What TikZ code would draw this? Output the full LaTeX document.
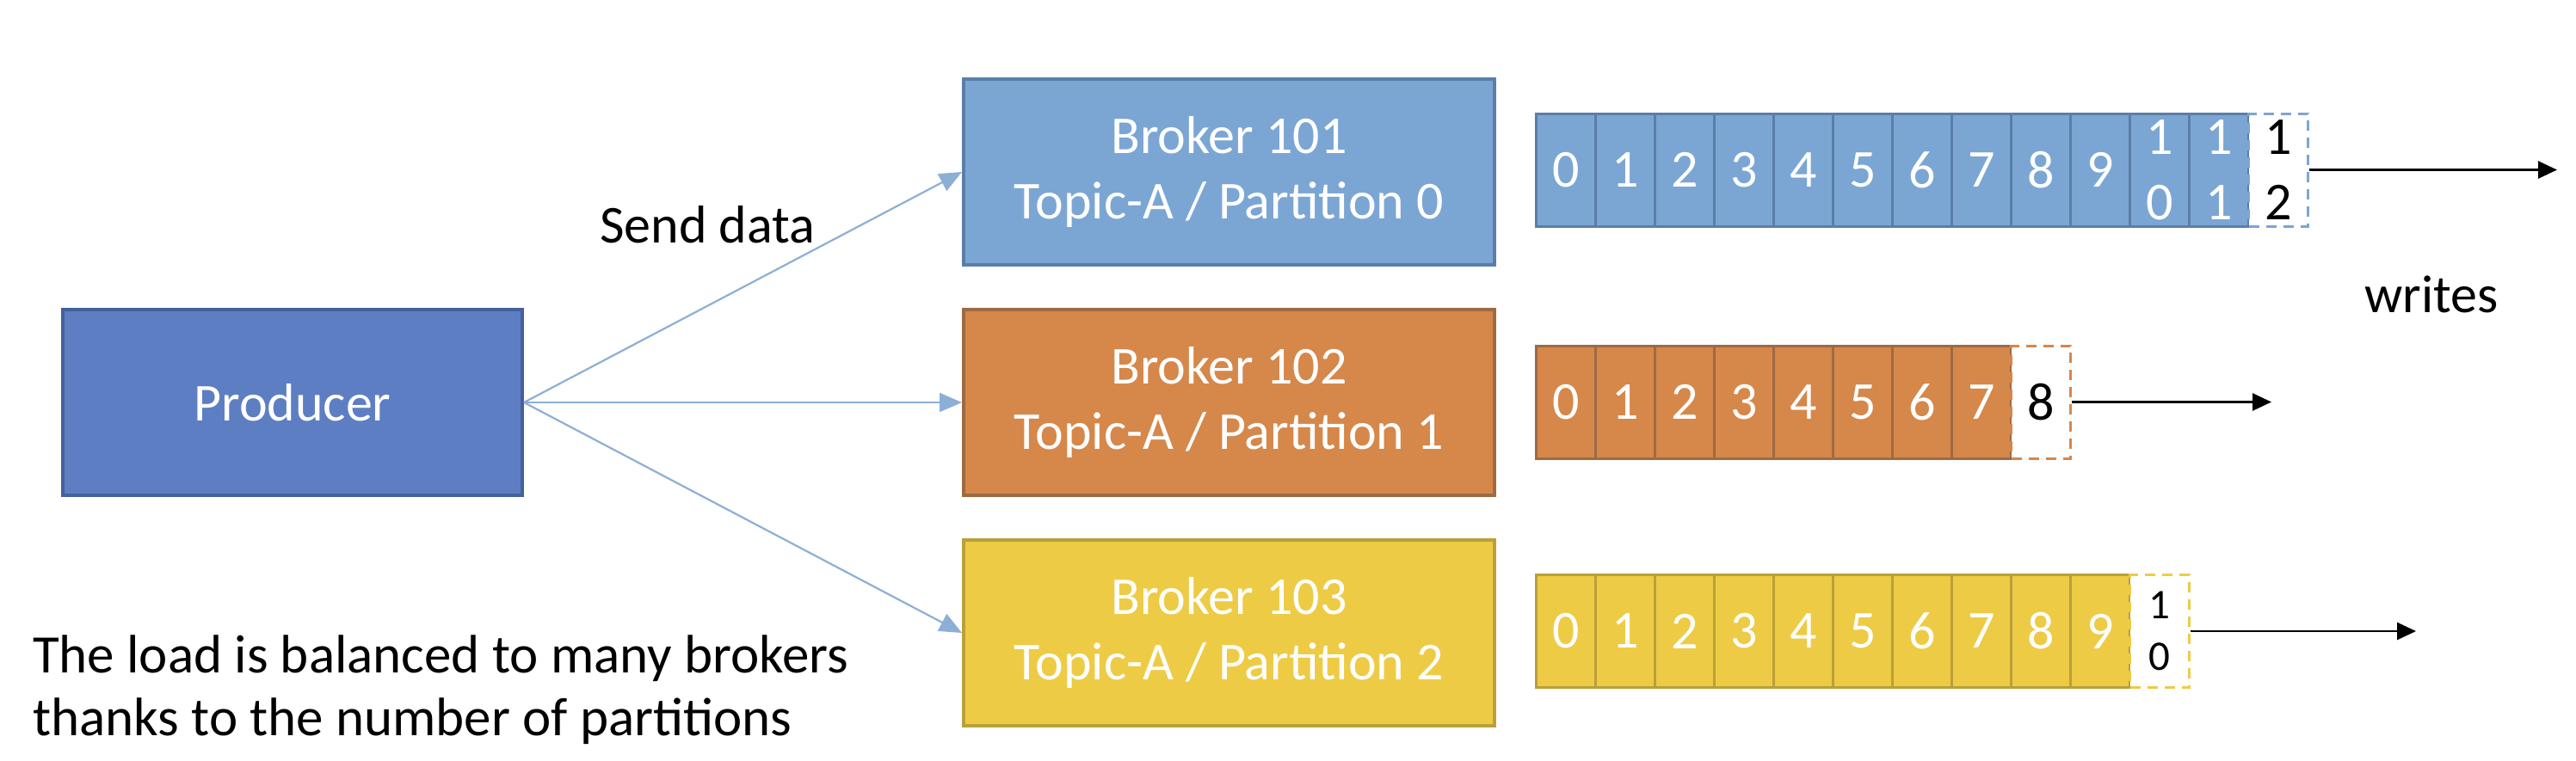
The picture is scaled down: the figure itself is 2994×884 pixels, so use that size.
\documentclass[tikz,border=0pt]{standalone}
\usepackage{fontspec}
\setmainfont{Carlito}
\usetikzlibrary{arrows.meta}
\definecolor{prodfill}{HTML}{5E7EC3}
\definecolor{prodline}{HTML}{44619A}
\definecolor{bluefill}{HTML}{7BA6D4}
\definecolor{blueline}{HTML}{5A7EA8}
\definecolor{orfill}{HTML}{D6874A}
\definecolor{orline}{HTML}{9E6A42}
\definecolor{yefill}{HTML}{EECB45}
\definecolor{yeline}{HTML}{B9A03A}
\definecolor{conn}{HTML}{8DAFD6}
\tikzset{
  big/.style={font=\fontsize{62}{75.6}\selectfont},
  box/.style={big, draw, line width=4pt, minimum width=617pt, minimum height=216pt, inner sep=0pt, align=center, text=white},
  cell/.style={big, draw, line width=3pt, minimum width=69pt, minimum height=131pt, inner sep=0pt, align=center, text=white},
  newcell/.style={big, draw, dashed, dash pattern=on 12pt off 8pt, line width=3pt, fill=white, minimum width=69pt, minimum height=131pt, inner sep=0pt, align=center, text=black},
  sendarrow/.style={draw=conn, line width=2.2pt, -{Triangle[length=26pt,width=22pt]}},
  writearrow/.style={draw=black, line width=2.6pt, -{Triangle[length=22pt,width=20pt]}},
  lbl/.style={big, inner sep=0pt}
}
\begin{document}
\begin{tikzpicture}[x=1pt,y=-1pt]
\useasboundingbox (0,0) rectangle (2994,884);
% producer and brokers
\node[box, fill=prodfill, draw=prodline, minimum width=534pt] (prod) at (340,468) {Producer};
\node[box, fill=bluefill, draw=blueline] (b1) at (1428.5,200) {Broker 101\\Topic-A / Partition 0};
\node[box, fill=orfill, draw=orline] (b2) at (1428.5,468) {Broker 102\\Topic-A / Partition 1};
\node[box, fill=yefill, draw=yeline] (b3) at (1428.5,736) {Broker 103\\Topic-A / Partition 2};
\draw[sendarrow] (prod.east) -- (b1.west);
\draw[sendarrow] (prod.east) -- (b2.west);
\draw[sendarrow] (prod.east) -- (b3.west);
\node[lbl, anchor=base west] (send) at (697,282) {Send data};
% row 1
\foreach \i/\t in {0/0,1/1,2/2,3/3,4/4,5/5,6/6,7/7,8/8,9/9,10/{1\\0},11/{1\\1}} {
  \node[cell, fill=bluefill, draw=blueline] (ra\i) at ({1820+69*\i},197.5) {\t};
}
\node[newcell, draw=bluefill] (ran) at ({1820+69*12},197.5) {1\\2};
\coordinate (raend) at (2972,197.5);
\draw[writearrow] (ran.east) -- (raend);
\node[lbl, anchor=base west] (writes) at (2748,363) {writes};
% row 2
\foreach \i in {0,...,7} {
  \node[cell, fill=orfill, draw=orline] (rb\i) at ({1820+69*\i},467.5) {\i};
}
\node[newcell, draw=orfill] (rbn) at ({1820+69*8},467.5) {8};
\coordinate (rbend) at (2640,467.5);
\draw[writearrow] (rbn.east) -- (rbend);
% row 3
\foreach \i in {0,...,9} {
  \node[cell, fill=yefill, draw=yeline] (rc\i) at ({1820+69*\i},734) {\i};
}
\node[newcell, draw=yefill, font=\fontsize{49}{60}\selectfont] (rcn) at ({1820+69*10},734) {1\\0};
\coordinate (rcend) at (2808,734);
\draw[writearrow] (rcn.east) -- (rcend);
% note
\node[lbl, anchor=base west, align=left, font=\fontsize{63}{73}\selectfont] (note) at (38,855) {The load is balanced to many brokers\\thanks to the number of partitions};
\end{tikzpicture}
\end{document}
